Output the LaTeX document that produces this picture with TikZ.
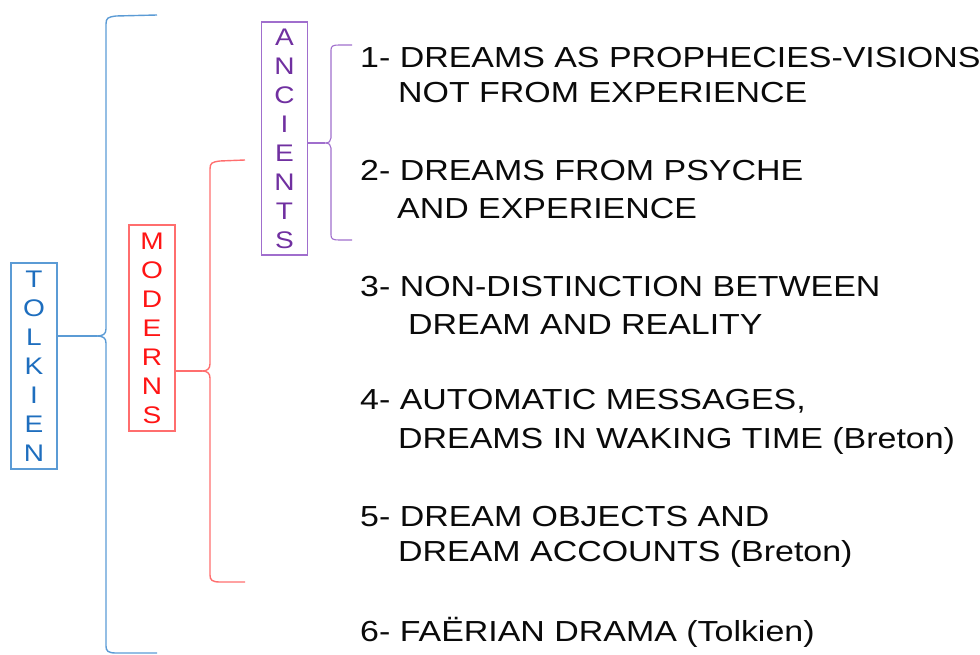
\documentclass[tikz,border=0pt]{standalone}
\usepackage{fontspec}
\setmainfont[FakeStretch=1.17]{Liberation Sans}
\definecolor{bline}{RGB}{91,155,213}
\definecolor{btext}{RGB}{30,110,190}
\definecolor{rline}{RGB}{255,110,110}
\definecolor{rtext}{RGB}{255,20,20}
\definecolor{pline}{RGB}{160,110,205}
\definecolor{ptext}{RGB}{112,48,160}
\definecolor{itemtext}{RGB}{10,10,10}
\tikzset{
  vbox/.style={draw, line width=1.1pt, minimum width=46pt, inner sep=0pt, align=center,
     font=\fontsize{24}{29}\selectfont},
  brack/.style={line width=1.4pt, line join=round},
  itm/.style={anchor=base west, inner sep=0pt, text=itemtext, font=\fontsize{29}{35}\selectfont}
}
\begin{document}
\begin{tikzpicture}[x=1pt,y=-1pt]
\useasboundingbox (0,0) rectangle (980,655);
% vertical boxes
\node[vbox, draw=bline, text=btext, minimum height=206pt] (tolk) at (34,366) {T\\O\\L\\K\\I\\E\\N};
\node[vbox, draw=rline, text=rtext, minimum height=206pt] (mod) at (152,328) {M\\O\\D\\E\\R\\N\\S};
\node[vbox, draw=pline, text=ptext, minimum height=233pt] (anc) at (284.5,138.5) {A\\N\\C\\I\\E\\N\\T\\S};
% bracket tips
\coordinate (btip) at (97,336);
\coordinate (rtip) at (202,371);
\coordinate (ptip) at (325,143);
\coordinate (btop) at (157,15);
\coordinate (bbot) at (157,653);
\coordinate (rtop) at (245,160);
\coordinate (rbot) at (245,582);
\coordinate (ptop) at (352,45);
\coordinate (pbot) at (352,240);
% blue bracket
\draw[brack, bline] (btop) -- (116,16) .. controls (108,17) and (106,18) .. (106,24) -- (106,329)
   .. controls (106,334) and (103,336) .. (btip)
   .. controls (103,336) and (106,338) .. (106,343) -- (106,646)
   .. controls (106,651) and (108,653) .. (116,653) -- (bbot);
\draw[brack, bline] (tolk.east |- btip) -- (btip);
% red bracket
\draw[brack, rline] (rtop) -- (220,161) .. controls (212,162) and (210,163) .. (210,169) -- (210,364)
   .. controls (210,369) and (207,371) .. (rtip)
   .. controls (207,371) and (210,373) .. (210,378) -- (210,575)
   .. controls (210,580) and (212,582) .. (220,582) -- (rbot);
\draw[brack, rline] (mod.east |- rtip) -- (rtip);
% purple bracket
\draw[brack, pline, line width=1.1pt] (ptop) -- (339,45) .. controls (333,45) and (331,46) .. (331,50) -- (331,138)
   .. controls (331,141) and (329,143) .. (ptip)
   .. controls (329,143) and (331,145) .. (331,148) -- (331,235)
   .. controls (331,239) and (333,240) .. (339,240) -- (pbot);
\draw[brack, pline, line width=1.1pt] (anc.east |- ptip) -- (ptip);
% items
\node[itm] (i1a) at (360,68) {1- DREAMS AS PROPHECIES-VISIONS};
\node[itm] (i1b) at (398,103) {NOT FROM EXPERIENCE};
\node[itm] (i2a) at (360,181) {2- DREAMS FROM PSYCHE};
\node[itm] (i2b) at (397,219) {AND EXPERIENCE};
\node[itm] (i3a) at (360,296) {3- NON-DISTINCTION BETWEEN};
\node[itm] (i3b) at (408,334) {DREAM AND REALITY};
\node[itm] (i4a) at (360,409) {4- AUTOMATIC MESSAGES,};
\node[itm] (i4b) at (398,448) {DREAMS IN WAKING TIME (Breton)};
\node[itm] (i5a) at (360,526) {5- DREAM OBJECTS AND};
\node[itm] (i5b) at (398,561) {DREAM ACCOUNTS (Breton)};
\node[itm] (i6) at (360,641) {6- FAËRIAN DRAMA (Tolkien)};
\end{tikzpicture}
\end{document}
